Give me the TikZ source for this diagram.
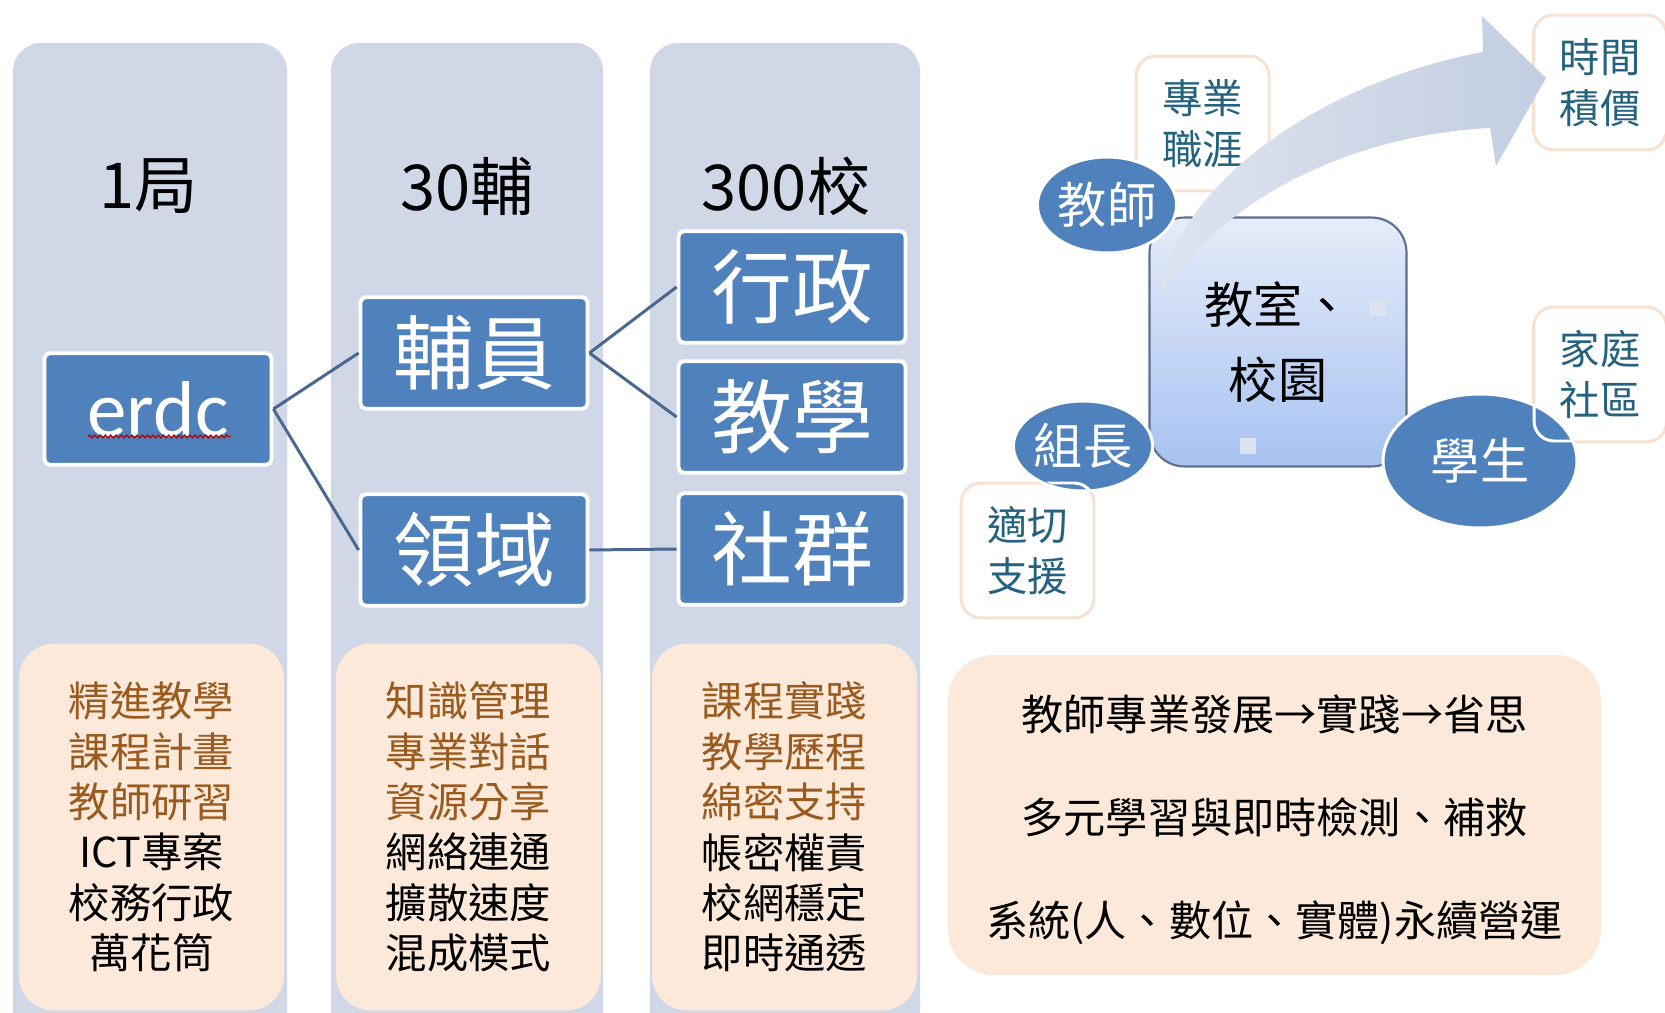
\documentclass[tikz,border=0pt]{standalone}
\usepackage{fontspec}
\setmainfont{Noto Sans CJK TC}
\newfontfamily\latinf{Carlito}
\usetikzlibrary{shapes.geometric,decorations.pathmorphing}
\definecolor{colbg}{HTML}{D0D8E8}
\definecolor{peach}{HTML}{FCE9DA}
\definecolor{accent}{HTML}{4F81BD}
\definecolor{conn}{HTML}{4A6790}
\definecolor{brownt}{HTML}{9A5B20}
\definecolor{tealt}{HTML}{24627E}
\definecolor{arrowc}{HTML}{C3CEE2}
\definecolor{arrowl}{HTML}{DDE3EF}
\definecolor{lblborder}{HTML}{F7E1D1}
\definecolor{roomborder}{HTML}{5C6F8F}
\definecolor{roomtop}{HTML}{E6ECF9}
\definecolor{roombot}{HTML}{A7C2F1}
\definecolor{handle}{HTML}{DCE3EF}
\begin{document}
\begin{tikzpicture}[x=0.02cm,y=-0.02cm,
  colbox/.style={fill=colbg, rounded corners=0.56cm},
  peachbox/.style={fill=peach, rounded corners=0.7cm, minimum width=5.3cm, minimum height=7.34cm, inner sep=0pt, align=center, font=\fontsize{23.5}{28.7}\selectfont},
  header/.style={font=\fontsize{36}{40}\selectfont, text=black, inner sep=0pt},
  bluebox/.style={draw=white, line width=2.2pt, fill=accent, rounded corners=3pt, text=white, minimum width=4.54cm, minimum height=2.23cm, inner sep=0pt, font=\fontsize{46}{50}\selectfont},
  connline/.style={draw=conn, line width=1.7pt},
  lblbox/.style={draw=lblborder, line width=1.7pt, rounded corners=0.4cm, minimum width=2.66cm, minimum height=2.7cm, inner sep=0pt, text=tealt, align=center, font=\fontsize{23}{29}\selectfont},
  ell/.style={ellipse, fill=accent, draw=white, line width=1.7pt, text=white, inner sep=0pt, font=\fontsize{28}{30}\selectfont},
  brn/.style={text=brownt}
]
\useasboundingbox (0,0) rectangle (1665,1013);
\clip (0,0) rectangle (1665,1013);
\fill[white] (0,0) rectangle (1665,1013);

% column backgrounds
\path[colbox] (13,43) rectangle (287,1060);
\path[colbox] (331,43) rectangle (603,1060);
\path[colbox] (650,43) rectangle (920,1060);

% headers
\node[header] (h1) at (149,186) {1局};
\node[header] (h2) at (467,186) {30輔};
\node[header] (h3) at (786,186) {300校};

% bottom peach boxes
\node[peachbox] (p1) at (151.5,827) {{\color{brownt}精進教學}\\{\color{brownt}課程計畫}\\{\color{brownt}教師研習}\\ICT專案\\校務行政\\萬花筒};
\node[peachbox] (p2) at (468.5,827) {{\color{brownt}知識管理}\\{\color{brownt}專業對話}\\{\color{brownt}資源分享}\\網絡連通\\擴散速度\\混成模式};
\node[peachbox] (p3) at (784.5,827) {{\color{brownt}課程實踐}\\{\color{brownt}教學歷程}\\{\color{brownt}綿密支持}\\帳密權責\\校網穩定\\即時通透};

% blue boxes
\node[bluebox] (erdc) at (158,409) {\latinf\fontsize{45}{50}\selectfont erdc};
\node[bluebox] (fuyuan) at (474,353) {輔員};
\node[bluebox] (lingyu) at (474,550) {領域};
\node[bluebox] (xingzheng) at (792,287) {行政};
\node[bluebox] (jiaoxue) at (792,417) {教學};
\node[bluebox] (shequn) at (792,549) {社群};

% spell-check wavy underline
\draw[red!70!black, line width=0.7pt, decorate, decoration={snake, amplitude=0.8pt, segment length=3pt}]
  ([xshift=-1.4cm,yshift=-0.55cm]erdc.center) -- ([xshift=1.46cm,yshift=-0.55cm]erdc.center);

% connectors
\draw[connline] (erdc.east) -- (fuyuan.west);
\draw[connline] (erdc.east) -- (lingyu.west);
\draw[connline] (fuyuan.east) -- (xingzheng.west);
\draw[connline] (fuyuan.east) -- (jiaoxue.west);
\draw[connline] (lingyu.east) -- (shequn.west);

% right part: center box
\node[shade, top color=roomtop, bottom color=roombot, draw=roomborder, line width=1.2pt, rounded corners=0.7cm,
      minimum width=5.14cm, minimum height=4.98cm, inner sep=0pt, align=center,
      font=\fontsize{28}{43}\selectfont] (room) at (1278,342) {教室、\\校園};
\fill[handle] (1370,300) rectangle (1386,316);
\fill[handle] (1240,438) rectangle (1256,454);

% label boxes
\node[lblbox] (career) at (1202.5,123.5) {專業\\職涯};
\node[lblbox] (time) at (1600,82.5) {時間\\積價};
\node[lblbox] (family) at (1600,374.5) {家庭\\社區};
\node[lblbox] (support) at (1027.5,550.5) {適切\\支援};

% ellipses
\node[ell, minimum width=2.44cm, minimum height=1.92cm] (teacher) at (1107,205) {教師};
\node[ell, minimum width=2.56cm, minimum height=1.8cm] (leader) at (1083,446) {組長};
\node[ell, minimum width=3.88cm, minimum height=2.68cm] (student) at (1480,461) {學生};

% label-box borders where they cross the ellipses
\begin{scope}
  \clip (student.center) ellipse [x radius=1.92cm, y radius=1.32cm];
  \draw[white, line width=1.7pt, rounded corners=0.4cm] (1534,308) rectangle (1668,441);
\end{scope}
\begin{scope}
  \clip (leader.center) ellipse [x radius=1.26cm, y radius=0.88cm];
  \draw[white, line width=1.7pt, rounded corners=0.4cm] (961,483) rectangle (1094,618);
\end{scope}

% big curved arrow
\shade[left color=arrowl, right color=arrowc]
  (1160,297) .. controls (1175,180) and (1330,80) .. (1483,52)
  -- (1482,16) -- (1546,78) -- (1496,166) -- (1490,128)
  .. controls (1350,135) and (1220,200) .. (1160,297) -- cycle;

% summary box
\node[fill=peach, rounded corners=0.9cm, minimum width=13.06cm, minimum height=6.4cm, inner sep=0pt] (summary) at (1274.5,815) {};
\node[align=center, inner sep=0pt, font=\fontsize{24}{58.6}\selectfont] (summarytext) at (1274.5,820)
  {教師專業發展→實踐→省思\\多元學習與即時檢測、補救\\系統(人、數位、實體)永續營運};
\end{tikzpicture}
\end{document}
